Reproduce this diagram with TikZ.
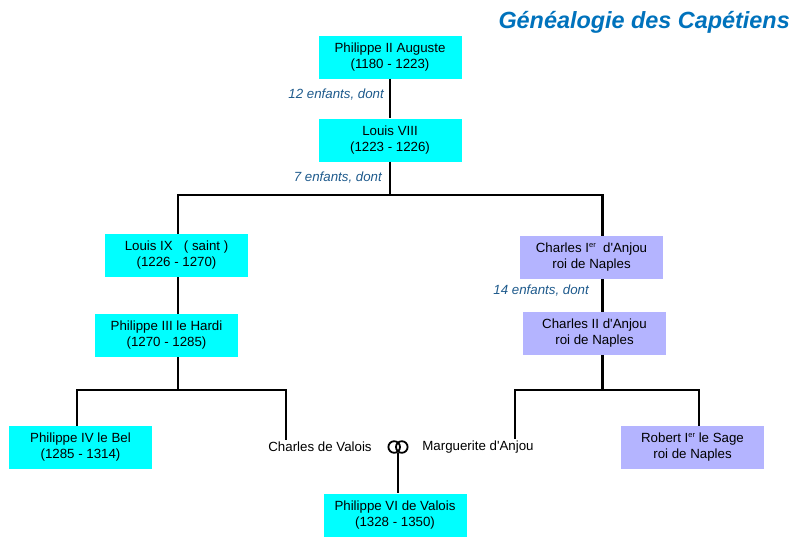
\documentclass[tikz,border=0pt]{standalone}
\usepackage{fontspec}
\setmainfont{Liberation Sans}
\definecolor{boxcyan}{RGB}{0,255,255}
\definecolor{boxlav}{RGB}{180,180,255}
\definecolor{titleblue}{RGB}{0,114,188}
\definecolor{countblue}{RGB}{30,90,140}
\newcommand{\premier}{\raisebox{5.2pt}{\fontsize{7.5}{8}\selectfont er}}

\begin{document}
\begin{tikzpicture}[x=1pt,y=-1pt,
  king node/.style={fill=boxcyan,minimum width=143pt,minimum height=43pt,inner sep=0pt,align=center,font=\fontsize{13.3}{16}\selectfont},
  naples node/.style={king node,fill=boxlav},
  plain node/.style={inner sep=2pt,font=\fontsize{13.3}{16}\selectfont},
  count label/.style={anchor=east,inner sep=0pt,text=countblue,font=\fontsize{13.3}{16}\selectfont\itshape},
  tie line/.style={line width=2.8pt}]
  \useasboundingbox (0,0) rectangle (791,538);
  \node[anchor=base east,inner sep=0pt,text=titleblue,font=\fontsize{23.4}{28}\selectfont\bfseries\itshape] (title) at (790,28) {Généalogie des Capétiens};

  \node[king node] at (390,57) (philippe2) {Philippe II Auguste\\(1180 - 1223)};
  \node[king node] at (390,140) (louis8) {Louis VIII\\(1223 - 1226)};
  \node[king node] at (176.5,255.5) (louis9) {Louis IX\ \ \ ( saint )\\(1226 - 1270)};
  \node[king node] at (166.5,335.5) (philippe3) {Philippe III le Hardi\\(1270 - 1285)};
  \node[naples node] at (591.5,257.5) (charles1) {Charles I\premier\ \ d\textquotesingle Anjou\\roi de Naples};
  \node[naples node] at (594.5,333.5) (charles2) {Charles II d\textquotesingle Anjou\\roi de Naples};
  \node[king node] at (80.5,447.5) (philippe4) {Philippe IV le Bel\\(1285 - 1314)};
  \node[naples node] at (692.5,447.5) (robert) {Robert I\premier\ le Sage\\roi de Naples};
  \node[king node] at (395,515) (philippe6) {Philippe VI de Valois\\(1328 - 1350)};
  \node[plain node] at (320,447) (valois) {Charles de Valois};
  \node[plain node] at (478,447) (marguerite) {Marguerite d\textquotesingle Anjou};

  \node[count label] at (384,95) (count12) {12 enfants, dont};
  \node[count label] at (382,178) (count7) {7 enfants, dont};
  \node[count label] at (589,291) (count14) {14 enfants, dont};

  % lignes
  \draw[tie line] (philippe2) -- (louis8);
  \coordinate (fork1) at (390,195);
  \draw[tie line] (louis8) -- (fork1);
  \draw[tie line] ([xshift=1.5]louis9.north) |- (fork1) -| ([xshift=11]charles1.north);
  \draw[tie line] ([xshift=1.5]louis9.south) -- ([xshift=11.5]philippe3.north);
  \draw[tie line] ([xshift=11]charles1.south) -- ([xshift=8]charles2.north);
  \coordinate (fork2) at (178,390);
  \draw[tie line] ([xshift=11.5]philippe3.south) -- (fork2);
  \draw[tie line] ([xshift=-3.5]philippe4.north) |- (fork2) -| ([xshift=-34]valois.north);
  \coordinate (fork3) at (602.5,390);
  \draw[tie line] ([xshift=8]charles2.south) -- (fork3);
  \draw[tie line] ([xshift=37]marguerite.north) |- (fork3) -| ([xshift=6.5]robert.north);

  % anneaux
  \coordinate (rings) at (398,447);
  \draw[line width=1.8pt] ([xshift=-3.8]rings) circle[radius=5.8] ([xshift=3.8]rings) circle[radius=5.8];
  \coordinate (wed) at (398,453);
  \draw[tie line] (wed) -- ([xshift=3]philippe6.north);
\end{tikzpicture}
\end{document}
